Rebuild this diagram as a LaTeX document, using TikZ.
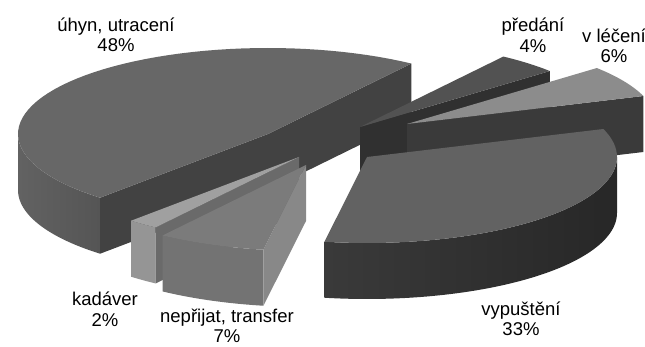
\documentclass[tikz,border=0pt]{standalone}
\usepackage{fontspec}
\setmainfont{Liberation Sans}
\newcommand\pieTop[5]{\path[#5] (#1,#2) -- plot[domain=#3:#4,samples=60] ({#1+250*cos(\x)},{#2-86*sin(\x)}) -- cycle;}
\newcommand\pieWall[5]{\path[#5] plot[domain=#3:#4,samples=60] ({#1+250*cos(\x)},{#2-86*sin(\x)}) -- plot[domain=#4:#3,samples=60] ({#1+250*cos(\x)},{#2-86*sin(\x)+56}) -- cycle;}
\newcommand\pieRad[4]{\path[#4] (#1,#2) -- ({#1+250*cos(#3)},{#2-86*sin(#3)}) -- ({#1+250*cos(#3)},{#2-86*sin(#3)+56}) -- (#1,{#2+56}) -- cycle;}
\definecolor{uTop}{HTML}{676767}
\definecolor{uWallL}{HTML}{626262}
\definecolor{uWallR}{HTML}{555555}
\definecolor{uCut}{HTML}{424242}
\definecolor{pTop}{HTML}{525252}
\definecolor{pWall}{HTML}{303030}
\definecolor{lTop}{HTML}{8C8C8C}
\definecolor{lWall}{HTML}{3A3A3A}
\definecolor{vTop}{HTML}{626262}
\definecolor{vWallL}{HTML}{3A3A3A}
\definecolor{vWallR}{HTML}{272727}
\definecolor{nTop}{HTML}{7B7B7B}
\definecolor{nWall}{HTML}{737373}
\definecolor{nRad}{HTML}{888888}
\definecolor{kTop}{HTML}{A0A0A0}
\definecolor{kWall}{HTML}{959595}
\definecolor{kRad}{HTML}{6A6A6A}
\tikzset{lbl/.style={align=center,font=\fontsize{18.5}{20.5}\selectfont,inner sep=0pt}}
\begin{document}
\begin{tikzpicture}[x=1pt,y=-1pt]
\useasboundingbox (0,0) rectangle (645,347);
\fill[white] (0,0) rectangle (645,347);
% uhyn
\pieWall{268}{134}{180}{227.8}{left color=uWallL,right color=uWallR}
\pieRad{268}{134}{55}{fill=uCut}
\pieRad{268}{134}{227.8}{fill=uCut}
\pieTop{268}{134}{55}{227.8}{fill=uTop}
% predani
\pieRad{360}{127}{40.6}{fill=pWall}
\pieTop{360}{127}{40.6}{55}{fill=pTop}
% v leceni
\pieRad{407}{124}{19}{fill=lWall}
\pieTop{407}{124}{19}{40.6}{fill=lTop}
% vypusteni
\pieWall{367}{157}{-99.8}{0}{left color=vWallL,right color=vWallR}
\pieTop{367}{157}{-99.8}{19}{fill=vTop}
% kadaver
\pieWall{299}{157}{-132.2}{-125}{fill=kWall}
\pieRad{299}{157}{-125}{fill=kRad}
\pieTop{299}{157}{-132.2}{-125}{fill=kTop}
% neprijat
\pieWall{306}{165}{-125}{-99.8}{fill=nWall}
\pieRad{306}{165}{-99.8}{fill=nRad}
\pieTop{306}{165}{-125}{-99.8}{fill=nTop}
% labels
\node[lbl] (uhyn) at (116,35) {úhyn, utracení\\48\%};
\node[lbl] (predani) at (533,35) {předání\\4\%};
\node[lbl] (leceni) at (614,46) {v léčení\\6\%};
\node[lbl] (kadaver) at (105,309) {kadáver\\2\%};
\node[lbl] (neprijat) at (227,326) {nepřijat, transfer\\7\%};
\node[lbl] (vypusteni) at (521,319) {vypuštění\\33\%};
\end{tikzpicture}
\end{document}
